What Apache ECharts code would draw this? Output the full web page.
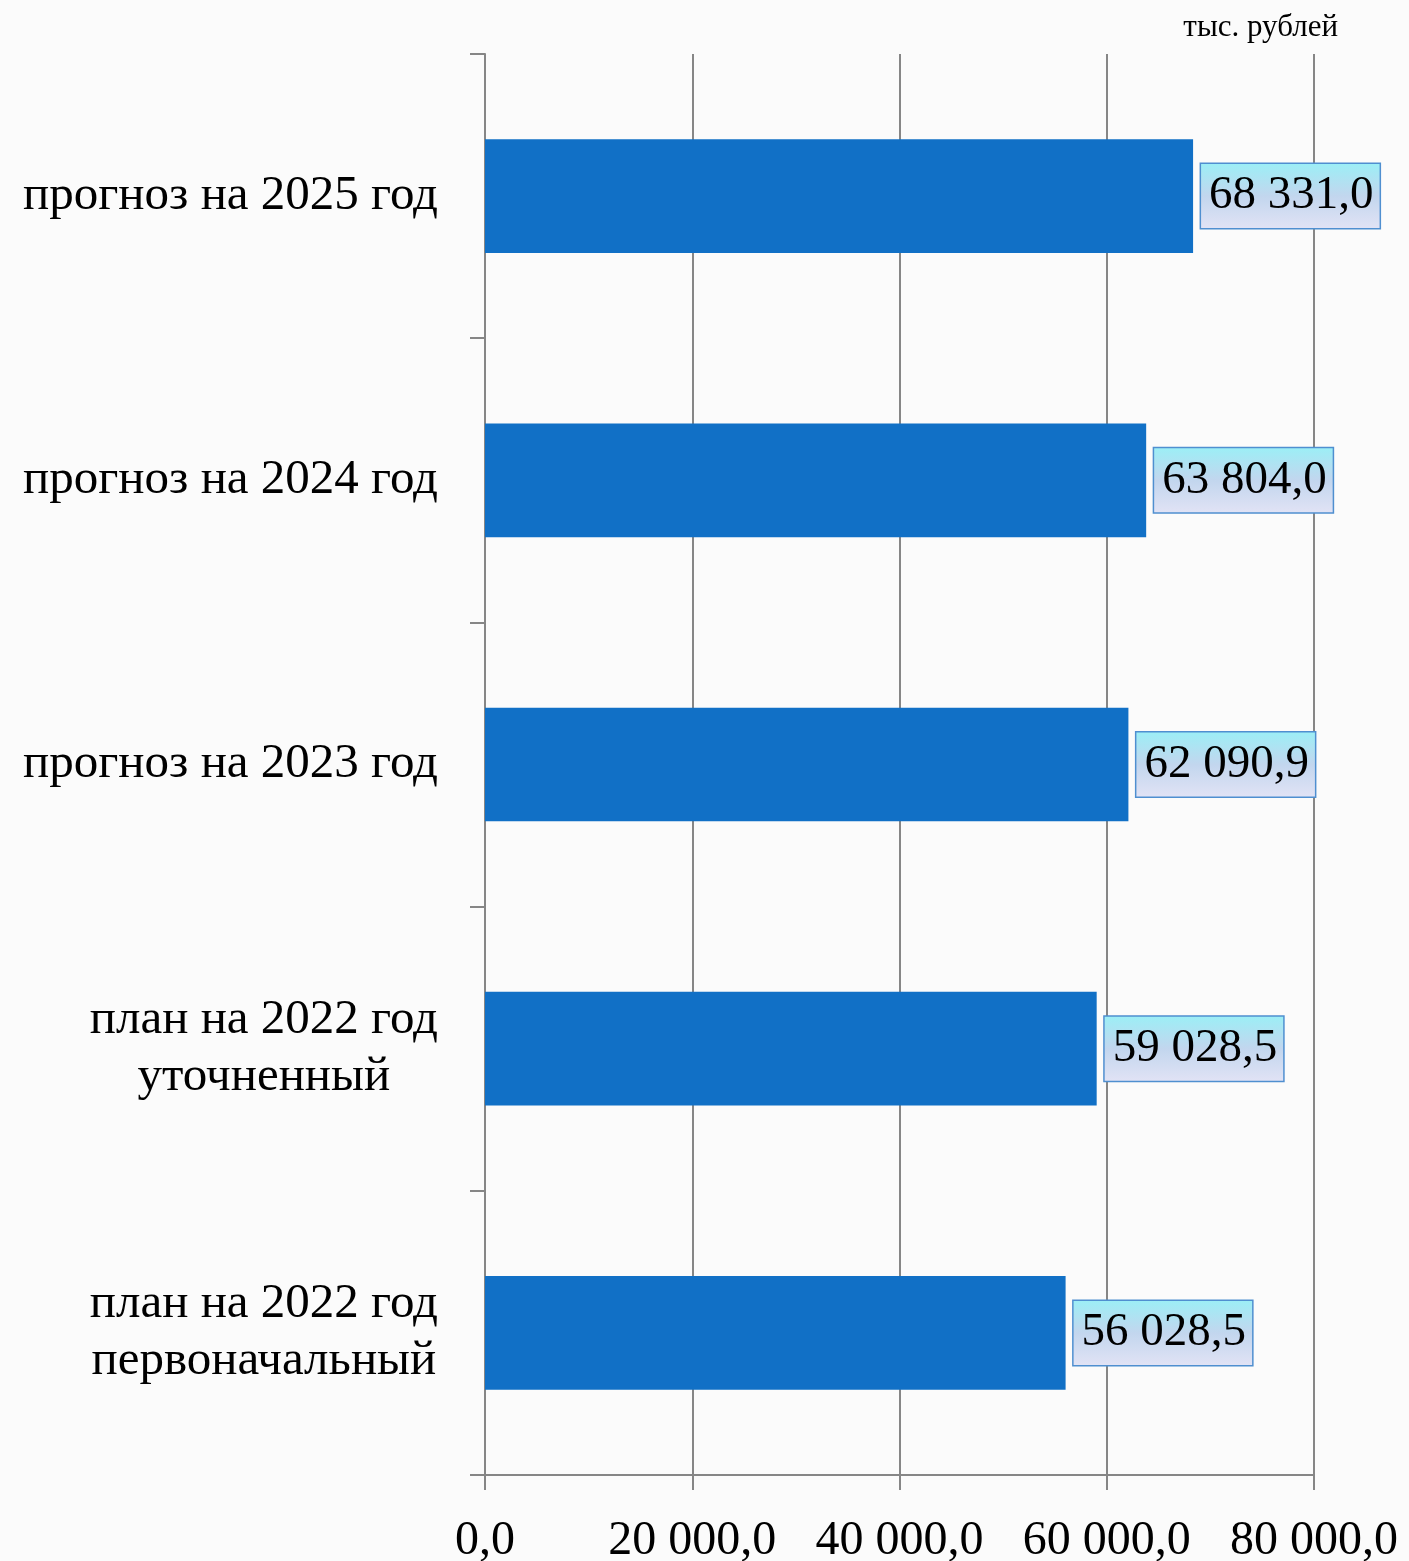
<!DOCTYPE html>
<html>
<head>
<meta charset="utf-8">
<script src="https://cdn.jsdelivr.net/npm/echarts@6/dist/echarts.min.js"></script>
<style>
  html, body { margin: 0; padding: 0; background: #fbfbfb; }
  #chart { width: 1409px; height: 1561px; }
</style>
</head>
<body>
<div id="chart"></div>
<script>
// категории снизу вверх
const categories = [
  'план на 2022 год\nпервоначальный',
  'план на 2022 год\nуточненный',
  'прогноз на 2023 год',
  'прогноз на 2024 год',
  'прогноз на 2025 год'
];
const values = [56028.5, 59028.5, 62090.9, 63804.0, 68331.0];
const unitLabel = 'тыс. рублей';

const FONT = '"Liberation Serif", "DejaVu Serif", serif';

// 68331 -> "68 331,0"
const fmt = v => {
  const parts = v.toFixed(1).split('.');
  return parts[0].replace(/\B(?=(\d{3})+(?!\d))/g, ' ') + ',' + parts[1];
};

const chart = echarts.init(document.getElementById('chart'));

const option = {
  backgroundColor: '#fbfbfb',
  animation: false,
  title: {
    text: unitLabel,
    right: 66,
    top: 7,
    textStyle: { fontFamily: FONT, fontSize: 31, fontWeight: 'normal', color: '#000' }
  },
  grid: {
    left: 485,
    right: 95,
    top: 54,
    bottom: 86,
    outerBoundsMode: 'none'
  },
  xAxis: {
    type: 'value',
    min: 0,
    max: 80000,
    interval: 20000,
    axisLine: { show: true, lineStyle: { color: '#868686', width: 2 } },
    axisTick: { show: true, length: 15, lineStyle: { color: '#868686', width: 2 } },
    splitLine: { show: true, lineStyle: { color: '#868686', width: 2 } },
    axisLabel: {
      margin: 42,
      fontFamily: FONT,
      fontSize: 48,
      color: '#000',
      formatter: v => fmt(v)
    }
  },
  yAxis: {
    type: 'category',
    data: categories,
    axisLine: { show: true, lineStyle: { color: '#868686', width: 2 } },
    axisTick: { show: true, length: 15, lineStyle: { color: '#868686', width: 2 } },
    splitLine: { show: false },
    axisLabel: {
      margin: 47,
      color: '#000',
      fontFamily: FONT,
      fontSize: 49,
      formatter: v => v.split('\n').map(l => '{c|' + l + '}').join('\n'),
      rich: {
        c: { fontFamily: FONT, fontSize: 49, color: '#000', align: 'center', lineHeight: 57 }
      }
    }
  },
  series: [{
    type: 'bar',
    data: values,
    barWidth: '40%',
    itemStyle: { color: '#1170c6' },
    label: {
      show: true,
      position: 'right',
      distance: 8,
      fontFamily: FONT,
      fontSize: 47,
      color: '#000',
      formatter: p => fmt(p.value),
      padding: [9, 6, 8, 8],
      borderColor: '#4f8fd0',
      borderWidth: 1.5,
      backgroundColor: new echarts.graphic.LinearGradient(0, 0, 0, 1, [
        { offset: 0, color: '#9beff6' },
        { offset: 0.5, color: '#c2d6ee' },
        { offset: 1, color: '#e2e3f5' }
      ])
    }
  }]
};

chart.setOption(option);
</script>
</body>
</html>
